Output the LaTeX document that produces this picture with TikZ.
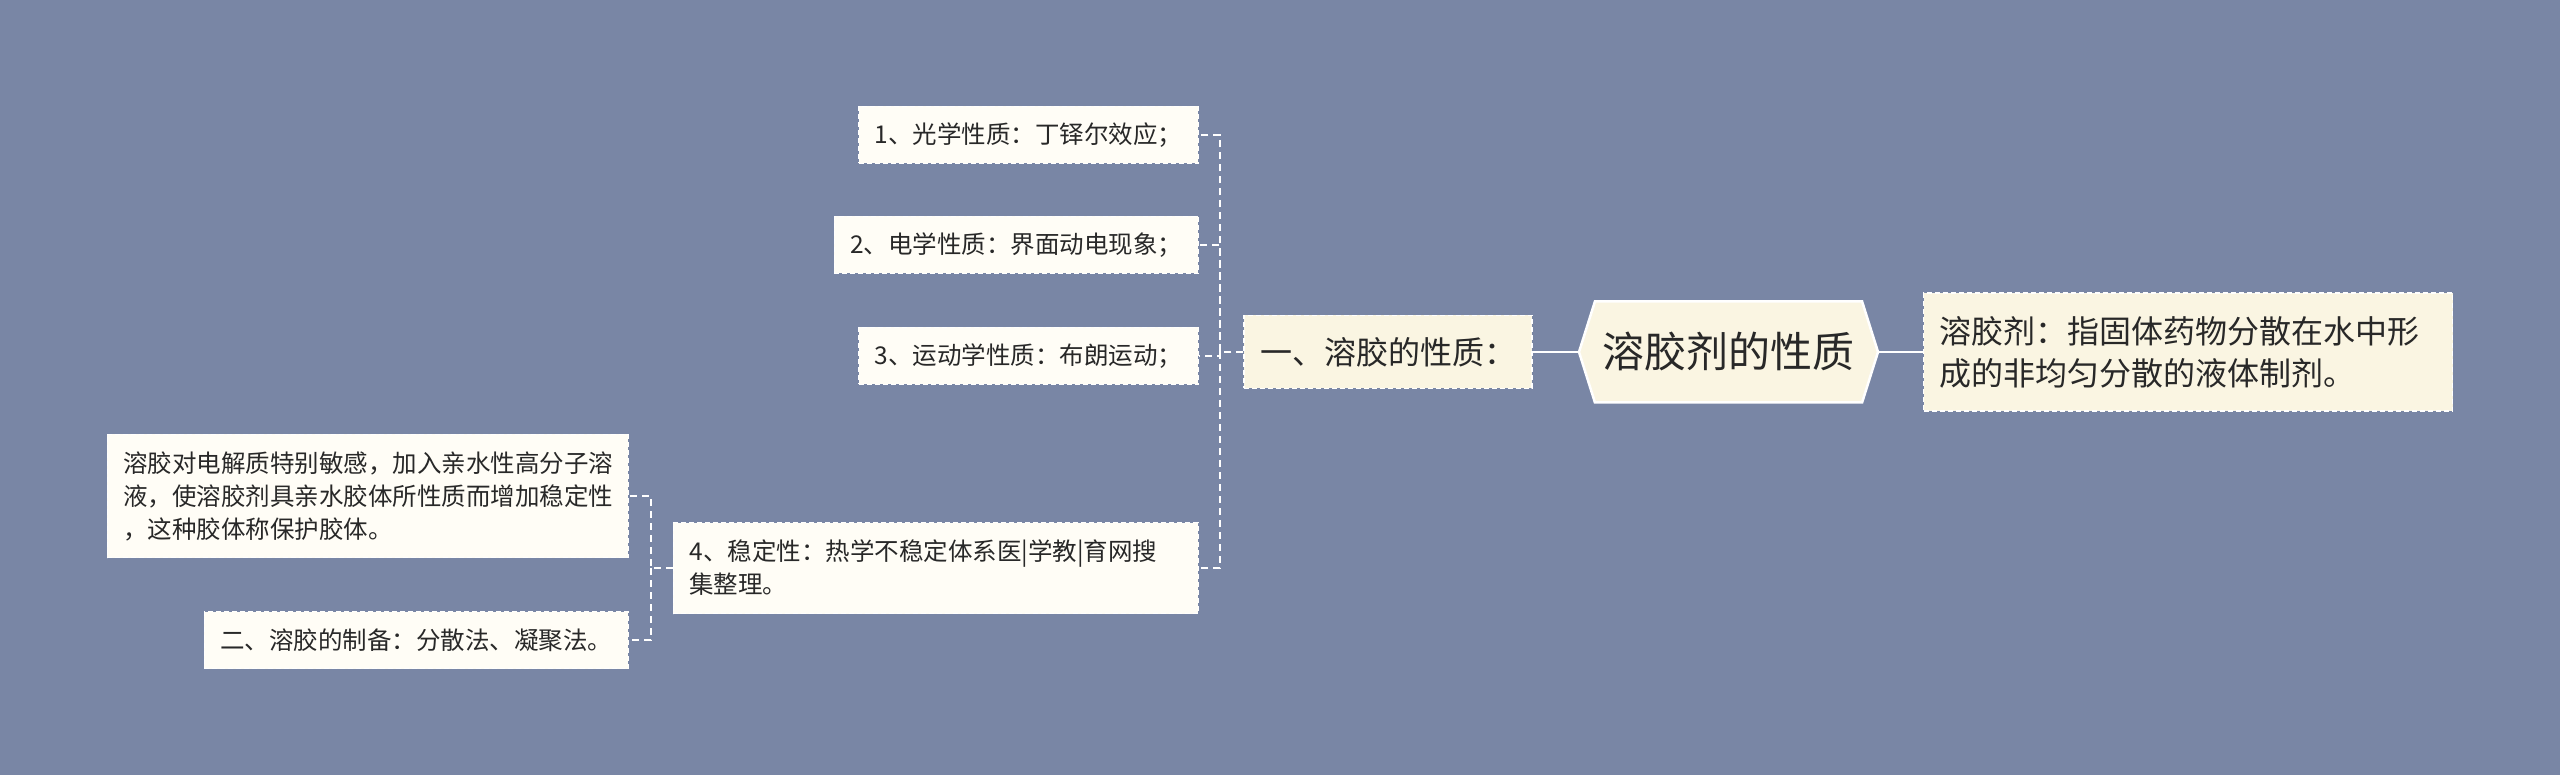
\documentclass[tikz,border=0pt]{standalone}
\usepackage{fontspec}
\setmainfont{Noto Sans CJK SC}
\usetikzlibrary{shapes.symbols}
\definecolor{jxbg}{RGB}{121,134,165}
\definecolor{jxcream}{RGB}{250,245,226}
\definecolor{jxleaffill}{RGB}{255,253,246}
\definecolor{jxtext}{RGB}{40,40,40}
\tikzset{
  jxbox/.style={draw=white, dash pattern=on 5pt off 3pt, line width=1.2pt, text=jxtext, align=left, inner ysep=4pt},
  jxroot/.style={signal, signal to=west and east, signal pointer angle=145, draw=white, line width=2.5pt,
    fill=jxcream, text=jxtext, font=\fontsize{42}{50}\selectfont, minimum width=299pt, minimum height=101pt, inner sep=0pt},
  jxtopic/.style={jxbox, fill=jxcream, font=\fontsize{32}{42}\selectfont, inner xsep=16pt},
  jxleaf/.style={jxbox, fill=jxleaffill, font=\fontsize{24.5}{33}\selectfont, inner xsep=16pt},
  jxmain/.style={draw=white, line width=2.5pt},
  jxlink/.style={draw=white, line width=1.3pt, dash pattern=on 7pt off 5pt}
}

\begin{document}
\begin{tikzpicture}[x=1pt, y=-1pt]
  \fill[jxbg] (0,0) rectangle (2560,775);
  \node[jxroot] (root) at (1728.5,352) {溶胶剂的性质};
  \node[jxtopic, anchor=west, text width=497pt, minimum height=118pt] (def) at (1923,352) {溶胶剂：指固体药物分散在水中形\\成的非均匀分散的液体制剂。};
  \node[jxtopic, minimum height=73pt] (topic) at (1388,352) {一、溶胶的性质：};
  \node[jxleaf, anchor=east, minimum height=57pt] (l1) at (1199,135) {1、光学性质：丁铎尔效应；};
  \node[jxleaf, anchor=east, minimum height=57pt] (l2) at (1199,245) {2、电学性质：界面动电现象；};
  \node[jxleaf, anchor=east, minimum height=57pt] (l3) at (1199,356) {3、运动学性质：布朗运动；};
  \node[jxleaf, anchor=east, text width=493pt, minimum height=91pt] (l4) at (1199,568) {4、稳定性：热学不稳定体系医|学教|育网搜\\集整理。};
  \node[jxleaf, anchor=east, text width=489pt, minimum height=123pt] (sa) at (629,496) {溶胶对电解质特别敏感，加入亲水性高分子溶\\液，使溶胶剂具亲水胶体所性质而增加稳定性\\，这种胶体称保护胶体。};
  \node[jxleaf, anchor=east, minimum height=57pt] (sb) at (629,640) {二、溶胶的制备：分散法、凝聚法。};
  \coordinate (busA) at (1220,352);
  \coordinate (busB) at (651,568);
  \draw[jxmain] (topic.east) -- (root.west);
  \draw[jxmain] (root.east) -- (def.west);
  \draw[jxlink] (topic.west) -- (busA) |- (l1.east);
  \draw[jxlink] (busA) |- (l2.east);
  \draw[jxlink] (busA) |- (l3.east);
  \draw[jxlink] (busA) |- (l4.east);
  \draw[jxlink] (l4.west) -- (busB) |- (sa.east);
  \draw[jxlink] (busB) |- (sb.east);
\end{tikzpicture}
\end{document}
